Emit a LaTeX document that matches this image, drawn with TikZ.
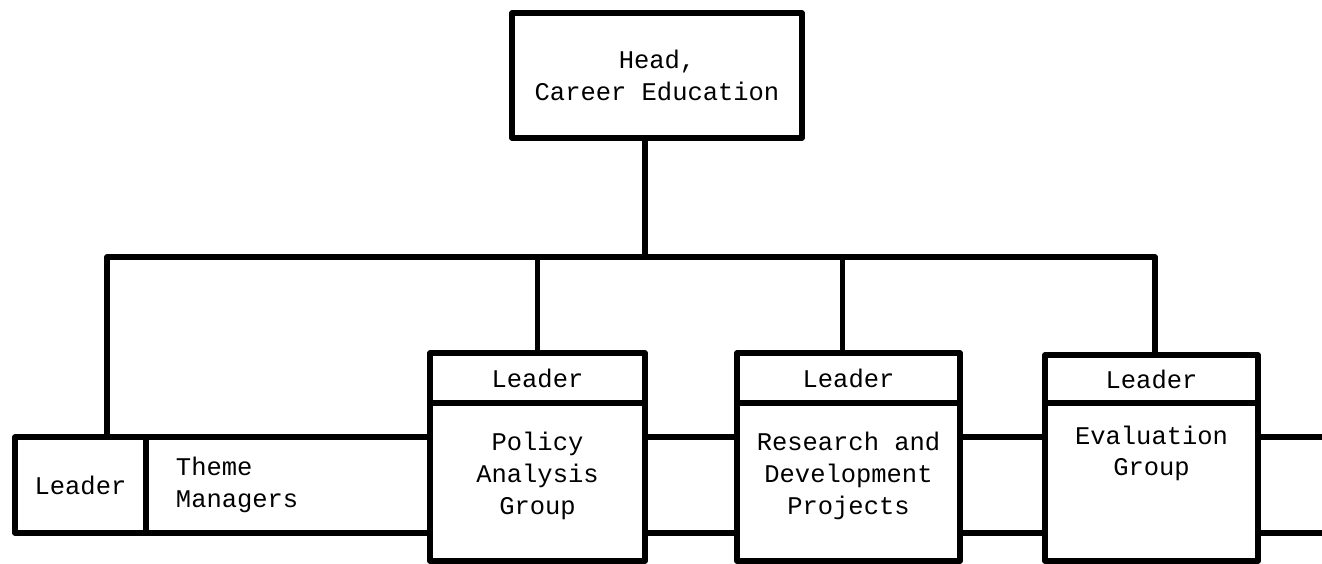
\documentclass[tikz,border=0pt]{standalone}
\usepackage{fontspec}
\setmainfont{Liberation Mono}
\usetikzlibrary{positioning}

\begin{document}
\begin{tikzpicture}[
    x=0.02cm, y=-0.02cm,
    box/.style={rectangle, draw, line width=3pt, line join=round, outer sep=0pt, inner sep=2pt, align=center, font=\fontsize{14.5}{18}\selectfont},
    leader/.style={box, minimum height=1cm},
    group/.style={box, minimum height=3.16cm, text depth=0.35cm},
    link/.style={line width=3pt, line join=round},
    node distance=0pt
]
\useasboundingbox (0,0) rectangle (1322,564);

% Head
\node[box, minimum width=5.8cm, minimum height=2.5cm] (head) at (657,75.5) {Head,\\Career Education};

% Theme managers
\node[box, minimum width=2.62cm, minimum height=1.92cm] (themeleader) at (80.5,485) {Leader};
\node[box, right=of themeleader, minimum height=1.92cm, text width=4.48cm, inner xsep=0.6cm, align=left] (theme) {Theme\\Managers};

% Groups
\node[group, minimum width=4.3cm] (policy) at (537.5,482) {Policy\\Analysis\\Group};
\node[leader, minimum width=4.3cm, above=of policy] (policyleader) {Leader};

\node[group, minimum width=4.46cm] (rd) at (848.5,482) {Research and\\Development\\Projects};
\node[leader, minimum width=4.46cm, above=of rd] (rdleader) {Leader};

\node[group, minimum width=4.26cm, text depth=1.25cm] (eval) at (1151.5,482) {Evaluation\\Group};
\node[leader, minimum width=4.26cm, minimum height=0.96cm, above=of eval] (evalleader) {Leader};

% Bus
\coordinate (busleft) at (107,257);
\coordinate (busright) at ([xshift=0.07cm]evalleader.north |- busleft);
\draw[link] ([xshift=-0.24cm]head.south) -- ([xshift=-0.24cm]head.south |- busleft);
\draw[link] (busleft |- themeleader.north) -- (busleft) -- (busright) -- (busright |- evalleader.north);
\draw[link] (policyleader.north) -- (policyleader.north |- busleft);
\draw[link] ([xshift=-0.12cm]rdleader.north) -- ([xshift=-0.12cm]rdleader.north |- busleft);

% Links between groups
\coordinate (bandtop) at (0,437);
\coordinate (bandbottom) at (0,533);
\coordinate (rightedge) at (1322,0);
\foreach \a/\b in {policy/rd, rd/eval} {
    \draw[link] (\a.east |- bandtop) -- (\b.west |- bandtop);
    \draw[link] (\a.east |- bandbottom) -- (\b.west |- bandbottom);
}
\draw[link] (eval.east |- bandtop) -- (rightedge |- bandtop);
\draw[link] (eval.east |- bandbottom) -- (rightedge |- bandbottom);

\end{tikzpicture}
\end{document}
